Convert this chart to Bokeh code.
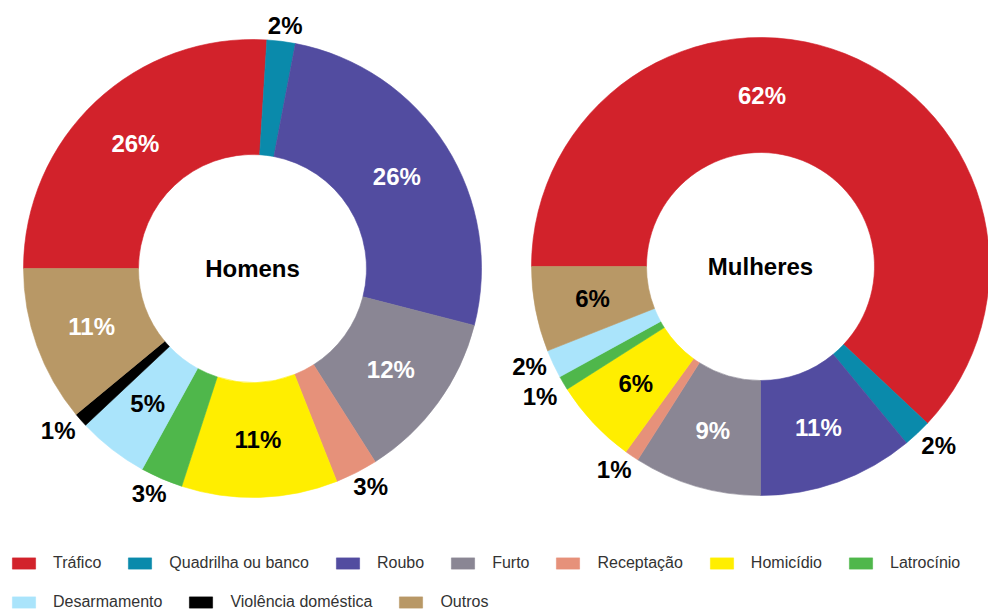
import math
from bokeh.plotting import figure
from bokeh.models import ColumnDataSource, Range1d, Legend, LegendItem
from bokeh.core.properties import value
from bokeh.embed import file_html
from bokeh.resources import INLINE

categories = ["Tráfico", "Quadrilha ou banco", "Roubo", "Furto", "Receptação",
              "Homicídio", "Latrocínio", "Desarmamento", "Violência doméstica", "Outros"]
homens = [26, 2, 26, 12, 3, 11, 3, 5, 1, 11]
mulheres = [62, 2, 11, 9, 1, 6, 1, 2, 0, 6]
titles = ["Homens", "Mulheres"]

colors = ["#D2222B", "#0A8AAB", "#524CA0", "#8A8694", "#E6917A",
          "#FFEE00", "#4FB74B", "#AAE4FB", "#000000", "#B89866"]
homens_text = ["white", "black", "white", "white", "black", "black", "black", "black", "black", "white"]
mulheres_text = ["white", "black", "white", "white", "black", "black", "black", "black", "black", "black"]

W, H = 988, 609
FONT = "Liberation Sans"
PCT_SIZE = 24

p = figure(width=W, height=H, x_range=Range1d(0, W), y_range=Range1d(0, H),
           output_backend="svg", toolbar_location=None, min_border=0,
           x_axis_type=None, y_axis_type=None)
p.grid.visible = False
p.outline_line_color = None
p.background_fill_color = "white"

R_OUT, R_IN = 229, 114
R_LABEL_IN, R_LABEL_OUT = 171, 236
START = -90.0  # degrees clockwise from 12 o'clock
MIN_GAP = 30


def spread(labels):
    # push apart outside labels on the same side that would overlap
    for side in (-1, 1):
        grp = sorted([l for l in labels if l["side"] == side], key=lambda l: l["y"])
        for _ in range(20):
            moved = False
            for a, b in zip(grp, grp[1:]):
                gap = b["y"] - a["y"]
                if gap < MIN_GAP and abs(b["x"] - a["x"]) < 40:
                    d = (MIN_GAP - gap) / 2.0
                    a["y"] -= d
                    b["y"] += d
                    moved = True
            if not moved:
                break


def donut(cx, cy, vals, text_colors, title):
    total = float(sum(vals))
    xs, ys, starts, ends, cols = [], [], [], [], []
    inside, outside = [], []
    t = START
    for v, tc, col in zip(vals, text_colors, colors):
        span = 360.0 * v / total
        t0, t1 = t, t + span
        t = t1
        if v <= 0:
            continue
        xs.append(cx)
        ys.append(cy)
        starts.append(math.radians(90 - t1))
        ends.append(math.radians(90 - t0))
        cols.append(col)
        frac = v / total
        txt = f"{round(frac * 100)}%"
        mid = (t0 + t1) / 2.0
        if frac > 0.5:
            mid = 0.5
        s, c = math.sin(math.radians(mid)), math.cos(math.radians(mid))
        if frac * 100 < 4:
            w = PCT_SIZE * (0.556 * (len(txt) - 1) + 0.889)
            h = PCT_SIZE * 0.75
            sx = max(-1.0, min(1.0, 1.4 * s))
            outside.append(dict(x=cx + R_LABEL_OUT * s + w / 2 * sx,
                                y=cy + R_LABEL_OUT * c + h / 2 * c,
                                t=txt, c="black", side=1 if s >= 0 else -1))
        else:
            inside.append(dict(x=cx + R_LABEL_IN * s, y=cy + R_LABEL_IN * c, t=txt, c=tc))
    spread(outside)
    labels = inside + outside
    src = ColumnDataSource(dict(x=xs, y=ys, start=starts, end=ends, color=cols))
    rend = p.annular_wedge(x="x", y="y", inner_radius=R_IN, outer_radius=R_OUT,
                           start_angle="start", end_angle="end",
                           fill_color="color", line_color="color", line_width=0.6,
                           source=src)
    lsrc = ColumnDataSource(dict(x=[l["x"] for l in labels], y=[l["y"] for l in labels],
                                 t=[l["t"] for l in labels], c=[l["c"] for l in labels]))
    p.text(x="x", y="y", text="t", text_color="c", source=lsrc,
           text_font=value(FONT), text_font_style="bold", text_font_size=f"{PCT_SIZE}px",
           text_align="center", text_baseline="middle")
    p.text(x=[cx], y=[cy], text=[title], text_color="black",
           text_font=value(FONT), text_font_style="bold", text_font_size="24px",
           text_align="center", text_baseline="middle")
    return rend


r_left = donut(252, H - 268, homens, homens_text, titles[0])
r_right = donut(760, H - 266, mulheres, mulheres_text, titles[1])


def make_legend(idx, loc):
    items = [LegendItem(label=categories[i], renderers=[r_left], index=i) for i in idx]
    lg = Legend(items=items, location=loc, orientation="horizontal",
                padding=0, margin=0, spacing=24, label_standoff=15,
                glyph_width=29, glyph_height=14,
                label_text_font=FONT, label_text_font_size="16px",
                label_text_color="#333333", border_line_color=None,
                background_fill_alpha=0)
    p.add_layout(lg, "center")


make_legend(range(0, 7), (9, 37))
make_legend(range(7, 10), (9, -2))

open("out.html", "w").write(file_html(p, INLINE))
